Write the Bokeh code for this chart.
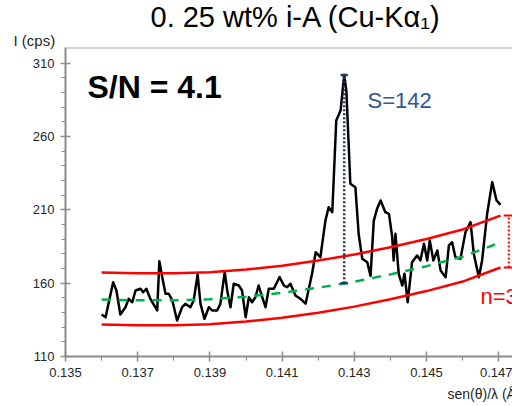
from bokeh.plotting import figure
from bokeh.models import (Range1d, FixedTicker, LinearAxis, Label, Title, Span,
                          NumeralTickFormatter)
from bokeh.embed import file_html
from bokeh.resources import INLINE

FONT = "Liberation Sans"

# XRD scan around the i-A reflection: sen(theta)/lambda and intensity (cps)
scan_x = [
    0.13600, 0.13611, 0.13632, 0.13641, 0.13652, 0.13666, 0.13675, 0.13685, 0.13694, 0.13708,
    0.13715, 0.13724, 0.13735, 0.13754, 0.13760, 0.13768, 0.13777, 0.13786, 0.13796, 0.13809,
    0.13823, 0.13832, 0.13846, 0.13855, 0.13866, 0.13874, 0.13885, 0.13897, 0.13906, 0.13920,
    0.13929, 0.13941, 0.13948, 0.13957, 0.13966, 0.13980, 0.13989, 0.13999, 0.14008, 0.14017,
    0.14026, 0.14035, 0.14045, 0.14054, 0.14063, 0.14077, 0.14093, 0.14105, 0.14114, 0.14123,
    0.14137, 0.14151, 0.14165, 0.14183, 0.14193, 0.14206, 0.14220, 0.14229, 0.14239, 0.14250,
    0.14262, 0.14272, 0.14278, 0.14289, 0.14303, 0.14312, 0.14322, 0.14336, 0.14345, 0.14354,
    0.14363, 0.14373, 0.14386, 0.14396, 0.14405, 0.14409, 0.14414, 0.14423, 0.14433, 0.14439,
    0.14448, 0.14460, 0.14474, 0.14483, 0.14493, 0.14502, 0.14509, 0.14519, 0.14530, 0.14539,
    0.14553, 0.14562, 0.14571, 0.14580, 0.14594, 0.14608, 0.14622, 0.14631, 0.14645, 0.14654,
    0.14668, 0.14682, 0.14694, 0.14705,
]
scan_cps = [
    138.6, 136.8, 160.7, 155.0, 138.6, 143.6, 149.3, 147.0, 155.0, 156.2,
    153.8, 156.2, 149.3, 141.4, 175.0, 164.1, 152.8, 152.8, 148.2, 134.5,
    143.6, 145.9, 143.6, 148.2, 165.9, 145.9, 135.7, 143.6, 141.4, 141.4,
    145.9, 167.5, 155.0, 143.6, 159.6, 158.4, 155.0, 136.8, 150.4, 147.0,
    150.4, 158.4, 150.4, 143.6, 156.2, 156.2, 164.1, 158.4, 157.3, 159.6,
    151.6, 149.3, 146.0, 166.4, 181.1, 177.7, 202.7, 211.8, 208.4, 270.9,
    277.7, 302.0, 291.4, 227.8, 225.4, 193.7, 176.6, 174.3, 165.0, 202.7,
    210.7, 216.4, 208.4, 207.3, 191.4, 175.5, 193.7, 166.4, 158.4, 166.4,
    147.0, 174.3, 178.9, 175.5, 186.8, 175.5, 189.1, 175.5, 182.3, 168.6,
    164.1, 185.7, 187.9, 177.7, 176.6, 194.8, 201.6, 180.0, 164.1, 175.5,
    207.3, 228.9, 216.4, 213.4,
]

# fitted background (mean) and the n-sigma noise band around it
mean_x = [0.1360, 0.1370, 0.1380, 0.1390, 0.1400, 0.1410, 0.1420, 0.1430, 0.1440, 0.1450, 0.1460, 0.1469]
mean_cps = [148.8, 148.3, 148.3, 149.0, 150.8, 153.4, 156.9, 161.0, 166.0, 171.6, 178.0, 186.4]
band_x = [0.1360, 0.1370, 0.1380, 0.1390, 0.1400, 0.1410, 0.1420, 0.1430, 0.1440, 0.1450, 0.1460, 0.14705]
upper_cps = [167.2, 166.8, 166.8, 167.5, 169.3, 171.9, 175.4, 179.5, 184.5, 190.1, 196.6, 206.1]
lower_cps = [131.8, 131.3, 131.3, 132.0, 133.8, 136.4, 139.9, 144.0, 149.0, 154.6, 161.1, 170.7]

# signal and noise annotation values
peak_x = 0.14272
peak_cps = 302.0
signal = 142
noise_x = 0.14728
noise_n = 3
sn_ratio = 4.1

x_ticks = [0.135, 0.137, 0.139, 0.141, 0.143, 0.145, 0.147]
x_minor = [0.136, 0.138, 0.140, 0.142, 0.144, 0.146]
y_ticks = [110, 160, 210, 260, 310]
y_minor = [120, 130, 140, 150, 170, 180, 190, 200, 220, 230, 240, 250, 270, 280, 290, 300]
y_top = 320.7

AXIS = "#8C8C8C"
RED = "#FF0000"
GREEN = "#00B050"
NAVY = "#203864"
BLUE_TXT = "#2F5597"

p = figure(
    width=512, height=406, output_backend="svg", toolbar_location=None,
    x_range=Range1d(0.135, 0.147382), y_range=Range1d(110, y_top),
    x_axis_type=None, y_axis_type=None,
    min_border_left=65, min_border_right=0, min_border_top=47, min_border_bottom=50,
)
p.outline_line_color = None
p.background_fill_color = "white"
p.border_fill_color = "white"


def make_axis(ticks, minor, fmt):
    return LinearAxis(
        ticker=FixedTicker(ticks=ticks, minor_ticks=minor),
        formatter=NumeralTickFormatter(format=fmt),
        axis_line_color=AXIS, axis_line_width=2,
        major_tick_line_color=AXIS, major_tick_line_width=1.5,
        major_tick_in=5, major_tick_out=5,
        minor_tick_line_color=AXIS, minor_tick_line_width=1.2,
        minor_tick_in=0, minor_tick_out=4,
        major_label_text_font=FONT, major_label_text_font_size="13px",
        major_label_text_color="#262626", major_label_standoff=6,
    )


p.add_layout(make_axis(y_ticks, y_minor, "0"), "left")
p.add_layout(make_axis(x_ticks, x_minor, "0.000"), "below")

# thin frame line along the top of the plot area
p.add_layout(Span(location=y_top, dimension="width", line_color="#A6A6A6", line_width=2))

# chart title and the intensity unit above the axis
p.title.text = "0. 25 wt% i-A (Cu-K\u03b1\u2081)"
p.title.text_font = FONT
p.title.text_font_size = "29px"
p.title.text_font_style = "normal"
p.title.text_color = "black"
p.title.align = "left"
p.title.offset = 85
p.title.standoff = -3
p.add_layout(Title(text="I (cps)", align="left", offset=-52, standoff=-3,
                   text_font=FONT, text_font_size="15px", text_font_style="normal",
                   text_color="#262626"), "above")
p.add_layout(Title(text="sen(\u03b8)/\u03bb (\u00c5\u207b\u00b9)", align="left", offset=382,
                   standoff=9, text_font=FONT, text_font_size="14px",
                   text_font_style="normal", text_color="#262626"), "below")

# measured scan
p.line(scan_x, scan_cps, line_color="black", line_width=2.5, line_join="round")

# noise band and background
p.line(band_x, upper_cps, line_color=RED, line_width=2.5)
p.line(band_x, lower_cps, line_color=RED, line_width=2.5)
p.line(mean_x, mean_cps, line_color=GREEN, line_width=2.5, line_dash="9 8")

# signal bar from background to peak top
base = peak_cps - signal
p.segment(x0=[peak_x], y0=[base], x1=[peak_x], y1=[peak_cps],
          line_color=NAVY, line_width=2.5, line_dash="2 2")
p.segment(x0=[peak_x - 0.0001] * 2, y0=[base, peak_cps],
          x1=[peak_x + 0.0001] * 2, y1=[base, peak_cps],
          line_color=NAVY, line_width=2.5)

# noise bar spanning the band at the end of the scan
p.segment(x0=[noise_x], y0=[lower_cps[-1]], x1=[noise_x], y1=[upper_cps[-1]],
          line_color=RED, line_width=2, line_dash="2 2")
p.segment(x0=[noise_x - 0.00014] * 2, y0=[lower_cps[-1], upper_cps[-1]],
          x1=[noise_x + 0.00014] * 2, y1=[lower_cps[-1], upper_cps[-1]],
          line_color=RED, line_width=2)


def label(sx, sy, text, size, color="black", style="normal"):
    p.add_layout(Label(
        x=sx, y=sy, x_units="screen", y_units="screen", text=text,
        text_font=FONT, text_font_size=size, text_color=color,
        text_align="left", text_baseline="middle", text_font_style=style,
    ))


label(22, 270, f"S/N = {sn_ratio}", "32px", style="bold")
label(302, 256, f"S={signal}", "22px", color=BLUE_TXT)
label(415, 60, f"n={noise_n}", "22px", color=RED)

open("out.html", "w").write(file_html(p, INLINE))
